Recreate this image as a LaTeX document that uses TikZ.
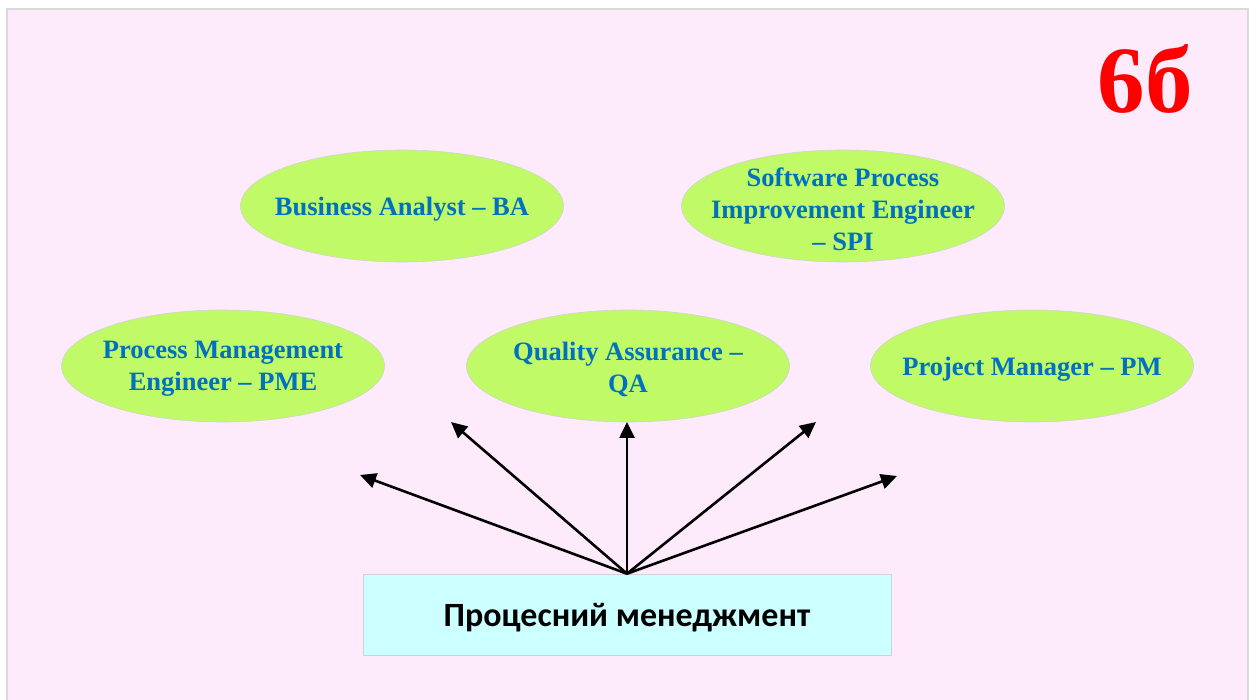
\documentclass[tikz,border=0pt]{standalone}
\usepackage{fontspec}
\setmainfont{Liberation Serif}
\newfontfamily\boxfont{Carlito}
\usetikzlibrary{arrows.meta,shapes.geometric}
\definecolor{pagepink}{RGB}{253,235,251}
\definecolor{rolegreen}{RGB}{192,250,102}
\definecolor{roleblue}{RGB}{0,112,192}
\definecolor{boxcyan}{RGB}{204,255,255}

\begin{document}
\begin{tikzpicture}[x=1pt,y=-1pt,>={Triangle[length=16pt,width=15pt]},
  role/.style={ellipse,draw=gray!35,line width=0.6pt,fill=rolegreen,minimum width=323pt,minimum height=112pt,inner sep=0pt},
  roletext/.style={align=center,text=roleblue,yshift=-3pt,font=\fontsize{26.5}{32}\selectfont\bfseries},
  mgmt/.style={draw=gray!35,line width=0.6pt,fill=boxcyan,minimum width=528pt,minimum height=81pt,inner sep=0pt},
  mgmttext/.style={yshift=-3pt,font=\boxfont\fontsize{34}{40}\selectfont\bfseries},
  link/.style={->,line width=2.6pt}]
  \useasboundingbox (0,0) rectangle (1256,700);
  % page
  \fill[pagepink] (7,9) rectangle (1248,702);
  \draw[gray!30,line width=1.5pt] (7,702) -- (7,9) -- (1248,9) -- (1248,702);

  \node[anchor=base,text=red,font=\fontsize{95}{95}\selectfont\bfseries] (num) at (1145,113) {6б};

  \node[role,label={[roletext]center:Business Analyst -- BA}] (ba) at (402,206) {};
  \node[role,label={[roletext]center:Software Process\\Improvement Engineer\\-- SPI}] (spi) at (843,206) {};
  \node[role,label={[roletext]center:Process Management\\Engineer -- PME}] (pme) at (223,366) {};
  \node[role,label={[roletext]center:Quality Assurance --\\QA}] (qa) at (628,366) {};
  \node[role,label={[roletext]center:Project Manager -- PM}] (pm) at (1032,366) {};

  \node[mgmt,label={[mgmttext]center:Процесний менеджмент}] (proc) at (627,614.5) {};

  \coordinate (t1) at (360,475);
  \coordinate (t2) at (451,422);
  \coordinate (t3) at (627,422);
  \coordinate (t4) at (816,422);
  \coordinate (t5) at (897,476);

  \foreach \t in {t1,t2,t3,t4,t5}
    \draw[link] (proc.north) -- (\t);
\end{tikzpicture}
\end{document}
